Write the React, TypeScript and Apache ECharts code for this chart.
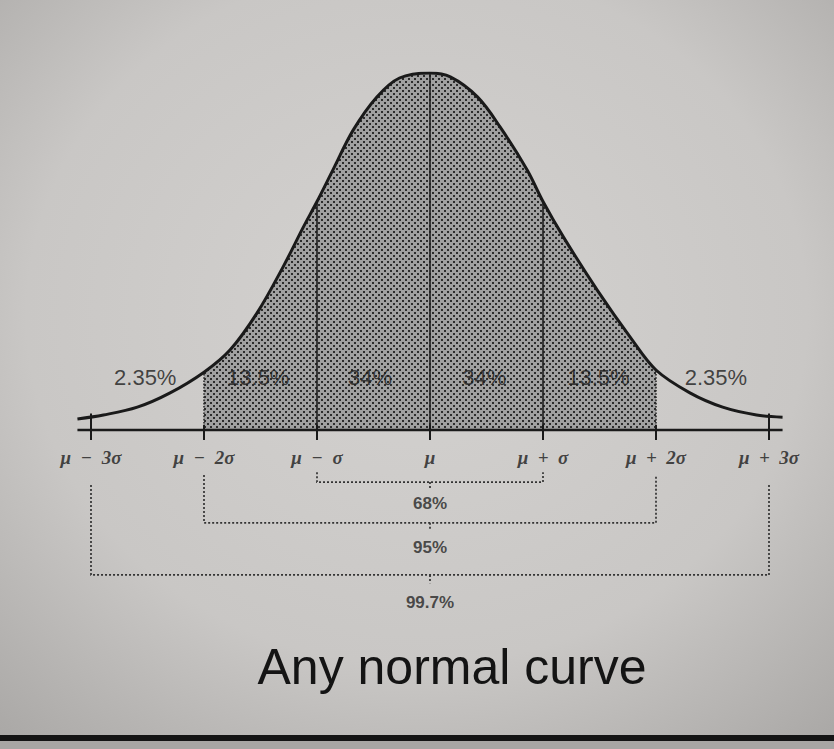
import { useEffect, useRef } from 'react';
import * as echarts from 'echarts';

// Curve: x in sigma units, height in % of peak
const curveX = [-3.12, -2.89, -2.59, -2.3, -2.0, -1.77, -1.53, -1.3, -1.12, -1.0, -0.86, -0.68, -0.47, -0.27, 0, 0.18, 0.42, 0.62, 0.86, 1.0, 1.18, 1.48, 1.77, 2.0, 2.3, 2.59, 2.89, 3.12];
const curveY = [3.1, 4.2, 6.4, 10.4, 16.2, 22.4, 32.8, 45.7, 56.9, 64.0, 72.8, 84.0, 93.3, 98.6, 100, 98.9, 93.3, 84.9, 72.8, 64.0, 54.1, 39.2, 26.1, 16.8, 10.4, 6.4, 4.2, 3.6];

const sigmaX = [-3, -2, -1, 0, 1, 2, 3];
const sigmaLabels = ['μ  −  3σ', 'μ  −  2σ', 'μ  −  σ', 'μ', 'μ  +  σ', 'μ  +  2σ', 'μ  +  3σ'];

const regionX = [-2.52, -1.52, -0.53, 0.48, 1.49, 2.53];
const regionLabels = ['2.35%', '13.5%', '34%', '34%', '13.5%', '2.35%'];

const bracketHalf = [1, 2, 3];
const bracketLabels = ['68%', '95%', '99.7%'];

const titleText = 'Any normal curve';

const heightAt = (x: number) => curveY[curveX.indexOf(x)];

export default function App() {
  const ref = useRef<HTMLDivElement>(null);
  useEffect(() => {
    if (!ref.current) return;
    const chart = echarts.init(ref.current, null, { renderer: 'svg' });

    const cv = document.createElement('canvas');
    cv.width = 6;
    cv.height = 6;
    const ctx = cv.getContext('2d')!;
    ctx.fillStyle = '#a0a0a0';
    ctx.fillRect(0, 0, 6, 6);
    ctx.fillStyle = '#2c2c2c';
    ctx.fillRect(0, 0, 2, 2);
    ctx.fillRect(3, 3, 2, 2);
    const pattern: any = { image: cv, repeat: 'repeat', imageWidth: 6, imageHeight: 6 };

    const curveData = curveX.map((x, i) => [x, curveY[i]]);
    const shadedData = curveData.filter((p) => p[0] >= -2 && p[0] <= 2);

    const solidLines = [-1, 0, 1].map((x) => ({ coords: [[x, 0], [x, heightAt(x)]] }));
    const dottedEdges = [-2, 2].map((x) => ({ coords: [[x, 0], [x, heightAt(x)]] }));
    const ticks = sigmaX.map((x) => ({ coords: [[x, -2.8], [x, Math.abs(x) === 3 ? 4.6 : 1.5]] }));

    const bracketTop = [-11.8, -12.6, -15.4];
    const bracketBottom = [-14.6, -26.0, -40.6];
    const bracketTick = [-16.6, -28.2, -42.9];
    const bracketLabelY = [-20.7, -32.8, -48.2];
    const bracketLines: any[] = [];
    bracketHalf.forEach((h, i) => {
      bracketLines.push({ coords: [[-h, bracketTop[i]], [-h, bracketBottom[i]], [h, bracketBottom[i]], [h, bracketTop[i]]] });
      bracketLines.push({ coords: [[0, bracketBottom[i]], [0, bracketTick[i]]] });
    });

    const option: any = {
      animation: false,
      grid: { left: 68.4, right: 42.4, top: 73, bottom: 104.8 },
      xAxis: { type: 'value', min: -3.2, max: 3.2, show: false },
      yAxis: { type: 'value', min: -60, max: 100, show: false },
      graphic: [
        {
          type: 'rect',
          shape: { x: 0, y: 0, width: 834, height: 749 },
          style: {
            fill: {
              type: 'radial', x: 0.5, y: 0.42, r: 0.78,
              colorStops: [
                { offset: 0, color: '#d4d2d0' },
                { offset: 0.6, color: '#c9c7c5' },
                { offset: 1, color: '#a7a5a3' },
              ],
            },
          },
          silent: true,
        },
        { type: 'rect', shape: { x: 0, y: 735, width: 834, height: 6 }, style: { fill: '#141414' } },
        { type: 'rect', shape: { x: 0, y: 741, width: 834, height: 8 }, style: { fill: '#a8a6a4' } },
        {
          type: 'text', x: 452, y: 667,
          style: {
            text: titleText, fill: '#141414', font: '50px "Liberation Sans", Arial, sans-serif',
            textAlign: 'center', textVerticalAlign: 'middle',
          },
        },
      ],
      series: [
        {
          type: 'line', data: shadedData, smooth: 0.35, symbol: 'none',
          lineStyle: { width: 0 }, areaStyle: { color: pattern, opacity: 1 }, z: 1,
        },
        {
          type: 'line', data: curveData, smooth: 0.35, symbol: 'none',
          lineStyle: { color: '#1a1a1a', width: 3 }, z: 5,
        },
        {
          type: 'line', data: [[-3.12, 0], [3.12, 0]], symbol: 'none',
          lineStyle: { color: '#1a1a1a', width: 2.5 }, z: 5,
        },
        {
          type: 'lines', coordinateSystem: 'cartesian2d', data: solidLines,
          lineStyle: { color: '#1e1e1e', width: 1.6, opacity: 1 }, z: 4,
        },
        {
          type: 'lines', coordinateSystem: 'cartesian2d', data: dottedEdges,
          lineStyle: { color: '#2a2a2a', width: 1.6, type: 'dotted', opacity: 1 }, z: 4,
        },
        {
          type: 'lines', coordinateSystem: 'cartesian2d', data: ticks,
          lineStyle: { color: '#1a1a1a', width: 2, opacity: 1 }, z: 5,
        },
        {
          type: 'lines', coordinateSystem: 'cartesian2d', polyline: true, data: bracketLines,
          lineStyle: { color: '#333', width: 1.7, type: [2, 2], opacity: 1 }, z: 4,
        },
        {
          type: 'scatter', symbolSize: 1, itemStyle: { color: 'rgba(0,0,0,0)' }, z: 6,
          data: regionX.map((x, i) => ({ value: [x, 14.8], name: regionLabels[i] })),
          label: {
            show: true, position: 'inside', formatter: (p: any) => p.name,
            fontFamily: '"Liberation Sans", Arial, sans-serif', fontSize: 22, color: '#1c1c1c',
          },
        },
        {
          type: 'scatter', symbolSize: 1, itemStyle: { color: 'rgba(0,0,0,0)' }, z: 6,
          data: sigmaX.map((x, i) => ({ value: [x, -7.8], name: sigmaLabels[i] })),
          label: {
            show: true, position: 'inside', formatter: (p: any) => p.name,
            fontFamily: '"Liberation Serif", "DejaVu Serif", serif', fontStyle: 'italic', fontWeight: 'bold',
            fontSize: 19, color: '#1c1c1c',
          },
        },
        {
          type: 'scatter', symbolSize: 1, itemStyle: { color: 'rgba(0,0,0,0)' }, z: 6,
          data: bracketLabels.map((t, i) => ({ value: [0, bracketLabelY[i]], name: t })),
          label: {
            show: true, position: 'inside', formatter: (p: any) => p.name,
            fontFamily: '"Liberation Sans", Arial, sans-serif', fontWeight: 'bold', fontSize: 17, color: '#262626',
          },
        },
      ],
    };
    chart.setOption(option);
    return () => chart.dispose();
  }, []);
  return <div ref={ref} style={{ position: 'absolute', left: 0, top: 0, width: 834, height: 749 }} />;
}
